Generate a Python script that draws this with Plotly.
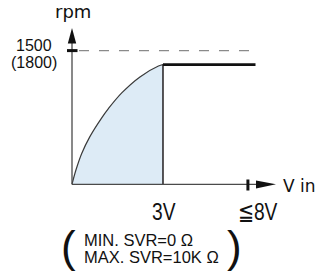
import plotly.graph_objects as go

# ---------------- data (schematic values) ----------------
v_curve = [0.0, 0.13, 0.32, 0.59, 0.98, 1.2, 1.64, 2.24, 2.85, 3.0]
rpm_curve = [0, 160, 346, 535, 746, 849, 1025, 1205, 1327, 1343]
v_flat = [3.0, 6.05]
rpm_flat = [1343, 1343]
v_knee = 3.0
v_limit = 5.8
rpm_ref = 1500
rpm_ref_end = 6.13
x_tick_vals = [3.0, 5.8]
x_tick_text = ["3V", "≦8V"]
y_tick_text = ["1500", "(1800)"]
x_title = "V in"
y_title = "rpm"
note_lines = ["MIN. SVR=0 Ω", "MAX. SVR=10K Ω"]

# ---------------- geometry ----------------
W, H = 322, 271
X0, SX = 72.0, 30.33            # pixel of V=0, px per volt
Y0, SY = 184.3, 133.7 / 1500.0  # pixel of rpm=0, px per rpm


def dv(px):
    return (px - X0) / SX


def dr(py):
    return (Y0 - py) / SY


def pxp(px):
    return px / W


def pyp(py):
    return 1 - py / H


FONT = "Liberation Sans, Arial, Helvetica, sans-serif"
WIDE = "DejaVu Sans, Verdana, sans-serif"
AX = "#4a4a4a"

fig = go.Figure()
fig.add_trace(go.Scatter(
    x=v_curve, y=rpm_curve, mode="lines", line=dict(color="#3a3a3a", width=1.2, shape="spline"),
    fill="tozeroy", fillcolor="#ddebf6", hoverinfo="skip", showlegend=False))
fig.add_trace(go.Scatter(
    x=[v_knee, v_knee], y=[0, rpm_flat[0]], mode="lines",
    line=dict(color="#231f20", width=1.5), hoverinfo="skip", showlegend=False))
fig.add_trace(go.Scatter(
    x=v_flat, y=rpm_flat, mode="lines",
    line=dict(color="#111111", width=2.6), hoverinfo="skip", showlegend=False))

shapes = []
# y axis line + arrow
shapes.append(dict(type="line", x0=0, x1=0, y0=0, y1=dr(42), line=dict(color=AX, width=1.3)))
shapes.append(dict(type="path",
                   path=f"M {0},{dr(28)} L {dv(67.8)},{dr(43.5)} L {dv(76.2)},{dr(43.5)} Z",
                   fillcolor="#111", line=dict(width=0)))
# y tick at reference rpm
shapes.append(dict(type="line", x0=dv(67), x1=dv(77.5), y0=rpm_ref, y1=rpm_ref,
                   line=dict(color="#111", width=3)))
# dashed reference line
shapes.append(dict(type="line", x0=dv(79), x1=rpm_ref_end, y0=rpm_ref, y1=rpm_ref,
                   line=dict(color="#8a8a8a", width=1.2, dash="10px,10px")))
# x axis line + arrow
shapes.append(dict(type="line", x0=0, x1=dv(258), y0=0, y1=0, line=dict(color=AX, width=1.3)))
shapes.append(dict(type="path",
                   path=f"M {dv(276)},{0} L {dv(256)},{dr(180.5)} L {dv(256)},{dr(188.5)} Z",
                   fillcolor="#111", line=dict(width=0)))
# x tick at limit
shapes.append(dict(type="line", x0=v_limit, x1=v_limit, y0=dr(190.5), y1=dr(179.5),
                   line=dict(color="#111", width=3)))

ann = []


def text(t, x, y, size, xanchor="center", family=FONT, yanchor="middle"):
    ann.append(dict(text=t, x=pxp(x), y=pyp(y), xref="paper", yref="paper", showarrow=False,
                    xanchor=xanchor, yanchor=yanchor, font=dict(family=family, size=size, color="#111"),
                    borderpad=0))


text(y_title, 73, 0, 18, family=WIDE, yanchor="top")
text(y_tick_text[0], 33.5, 45.2, 16)
text(y_tick_text[1], 33.5, 62.5, 16)
text(x_title, 281.5, 185.5, 17, xanchor="left", family=WIDE)
ann.append(dict(text=x_tick_text[0], x=x_tick_vals[0], y=pyp(211.3), xref="x", yref="paper",
                showarrow=False, xanchor="center", yanchor="middle", borderpad=0, xshift=1,
                font=dict(family=FONT, size=24, color="#111")))
ann.append(dict(text=x_tick_text[1], x=x_tick_vals[1], y=pyp(211.3), xref="x", yref="paper",
                showarrow=False, xanchor="center", yanchor="middle", borderpad=0, xshift=10,
                font=dict(family=FONT, size=24, color="#111")))
text(note_lines[0], 82.5, 239.5, 16.5, xanchor="left")
text(note_lines[1], 82.5, 257, 16.5, xanchor="left")
text("(", 68, 246, 44)
text(")", 234, 246, 44)

fig.update_layout(
    width=W, height=H, autosize=False,
    margin=dict(l=0, r=0, t=0, b=0, pad=0),
    paper_bgcolor="white", plot_bgcolor="white",
    xaxis=dict(visible=False, range=[dv(0), dv(W)], fixedrange=True),
    yaxis=dict(visible=False, range=[dr(H), dr(0)], fixedrange=True),
    shapes=shapes, annotations=ann, showlegend=False,
)

post = """
document.body.style.margin='0px';
document.body.style.overflow='hidden';
var gd = document.getElementById('{plot_id}');
gd.querySelectorAll('.annotation-text').forEach(function(t){
  var s = t.textContent;
  if (s === '3V' || s.slice(-2) === '8V') {
    t.style.transformBox = 'fill-box';
    t.style.transformOrigin = 'center';
    t.style.transform = 'scaleX(0.8)';
  }
});
"""
fig.write_html("out.html", config={"displayModeBar": False, "staticPlot": True}, post_script=post)
